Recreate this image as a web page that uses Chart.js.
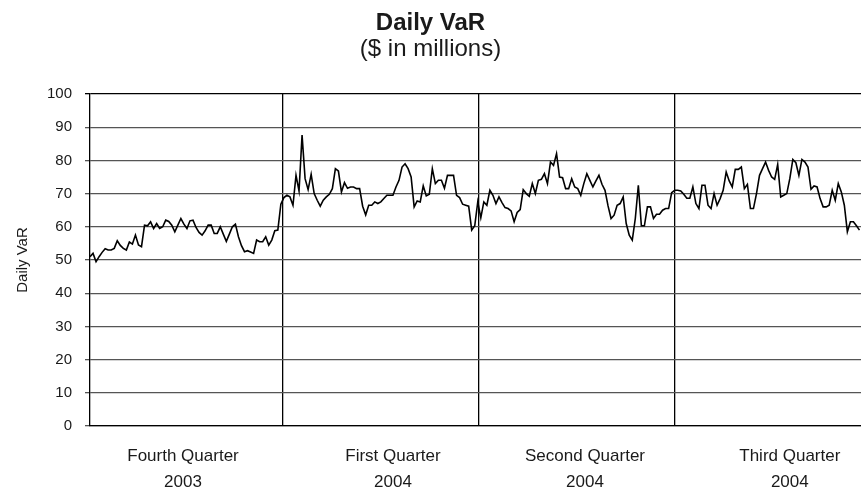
<!DOCTYPE html>
<html>
<head>
<meta charset="utf-8">
<script src="https://cdn.jsdelivr.net/npm/chart.js@4/dist/chart.umd.min.js"></script>
<style>
  html, body { margin: 0; padding: 0; background: #fff; }
  #wrap { width: 861px; height: 489px; }
</style>
</head>
<body>
<div id="wrap"><canvas id="c" width="861" height="489"></canvas></div>
<script>
// Daily VaR values ($ millions), one per trading day, Oct 2003 - Sep 2004
const varQ4_2003 = [51,52,49.5,51,52.3,53.4,53,53,53.5,55.8,54.4,53.5,53,55.4,54.8,57.5,54.5,54,60.5,60.3,61.5,59.5,61,59.5,60,62,61.6,60.5,58.5,60.5,62.5,60.8,59.5,61.8,62,59.8,58.3,57.5,58.8,60.5,60.5,58,58,60,57.8,55.6,57.8,60,60.8,57,54.3,52.5,52.8,52.4,52,56,55.5,55.5,57,54.5,56,58.8,59,66.8,68.8,69.5];
const varQ1_2004 = [69,66.5,75.5,70.8,87.6,74.5,71.2,75.8,70,68,66.2,68,69,69.8,71.5,77.5,76.8,70.5,73.3,71.6,72,72,71.5,71.5,66.2,63.6,66.5,66.5,67.5,67,67.5,68.5,69.5,69.5,69.5,72,74,78,79,77.5,75,66,67.8,67.5,72.3,69.3,69.8,77.5,73,74,74,71.6,75.5,75.5,75.5,69.5,68.8,66.8,66.5,66.2,59,60.3,67.5,62.7];
const varQ2_2004 = [67.5,66.5,71,69.5,67,69,67.3,65.8,65.5,64.8,61.5,64.3,65.2,71.2,70,69.2,73,70,74,74.3,76,73,79.5,78.5,82,75,74.8,71.5,71.5,74.5,72,71.5,69.5,73,76,74,72,73.8,75.5,72.8,71,66.3,62.5,63.5,66.5,67,69,61,57.5,56,62.5,72.5,60.3,60.3,66,66,62.5,63.8,63.8,65,65.5,65.5,70.3,71,71];
const varQ3_2004 = [70.8,69.8,68.6,68.6,72,67,65.5,72.5,72.5,66.5,65.5,70,66.5,68.5,71,76.5,73.8,72,77.3,77.3,78,71.5,72.8,65.5,65.5,70,75.5,77.5,79.5,77,75,74.3,78.8,69,69.5,70,74.5,80.3,79.3,75.5,80.3,79.5,78,71.3,72.3,72,68.5,66,66,66.5,71,68,73,70.5,66.5,58.5,61.5,61.5,60.3,59];

// Quarter boundaries and label centres, in trading-day index units
const quarterBoundaries = [63.6, 128.3, 193];
const quarterLabelCenters = [30.7, 100, 163.4, 231];
const quarterLabels = [["Fourth Quarter", "2003"], ["First Quarter", "2004"], ["Second Quarter", "2004"], ["Third Quarter", "2004"]];
const yTickStep = 10;
const chartTitle = "Daily VaR";
const chartSubtitle = "($ in millions)";
const yAxisTitle = "Daily VaR";

const allValues = [].concat(varQ4_2003, varQ1_2004, varQ2_2004, varQ3_2004);
const points = allValues.map((v, i) => ({ x: i, y: v }));

const FONT = "'Liberation Sans', Arial, Helvetica, sans-serif";
const TXT = '#1a1a1a';
const X_MIN = 0, X_MAX = 254.5;

new Chart(document.getElementById('c'), {
  type: 'line',
  data: {
    datasets: [{
      data: points,
      borderColor: '#000',
      borderWidth: 1.6,
      pointRadius: 0,
      tension: 0,
      fill: false
    }]
  },
  options: {
    responsive: false,
    animation: false,
    devicePixelRatio: 1,
    layout: { padding: { left: 0, right: 0, top: 0, bottom: 0 } },
    plugins: {
      legend: { display: false },
      tooltip: { enabled: false },
      title: {
        display: true, text: chartTitle, color: TXT,
        font: { family: FONT, size: 24, weight: 'bold', lineHeight: 1.0 },
        padding: { top: 11, bottom: 0 }
      },
      subtitle: {
        display: true, text: chartSubtitle, color: TXT,
        font: { family: FONT, size: 24, weight: 'normal', lineHeight: 1.0 },
        padding: { top: 2, bottom: 33 }
      }
    },
    scales: {
      x: {
        type: 'linear', position: 'bottom', min: X_MIN, max: X_MAX,
        afterBuildTicks: s => { s.ticks = quarterBoundaries.map(v => ({ value: v })); },
        ticks: { display: false },
        grid: { color: '#000', lineWidth: 1.3, drawTicks: false },
        border: { color: '#000', width: 1.3 },
        afterFit: s => { s.height = 0; }
      },
      xq: {
        type: 'linear', position: 'bottom', min: X_MIN, max: X_MAX,
        afterBuildTicks: s => { s.ticks = quarterLabelCenters.map(v => ({ value: v })); },
        ticks: {
          autoSkip: false, maxRotation: 0, minRotation: 0, padding: 17, color: TXT,
          font: { family: FONT, size: 17, lineHeight: 1.55 },
          callback: (v, i) => quarterLabels[i]
        },
        grid: { display: false, drawTicks: false },
        border: { display: false },
        afterFit: s => { s.height = 63; }
      },
      y: {
        min: 0, max: 100,
        ticks: { stepSize: yTickStep, color: TXT, padding: 13, font: { family: FONT, size: 15 } },
        grid: {
          color: ctx => (ctx.tick && ctx.tick.value === 100) ? '#000' : '#555',
          lineWidth: 1.3, tickLength: 5, drawTicks: true
        },
        border: { color: '#000', width: 1.3 },
        title: {
          display: true, text: yAxisTitle, color: TXT,
          font: { family: FONT, size: 15 }, padding: { top: 14, bottom: 0 }
        },
        afterFit: s => { s.width = 90; }
      }
    }
  }
});
</script>
</body>
</html>
